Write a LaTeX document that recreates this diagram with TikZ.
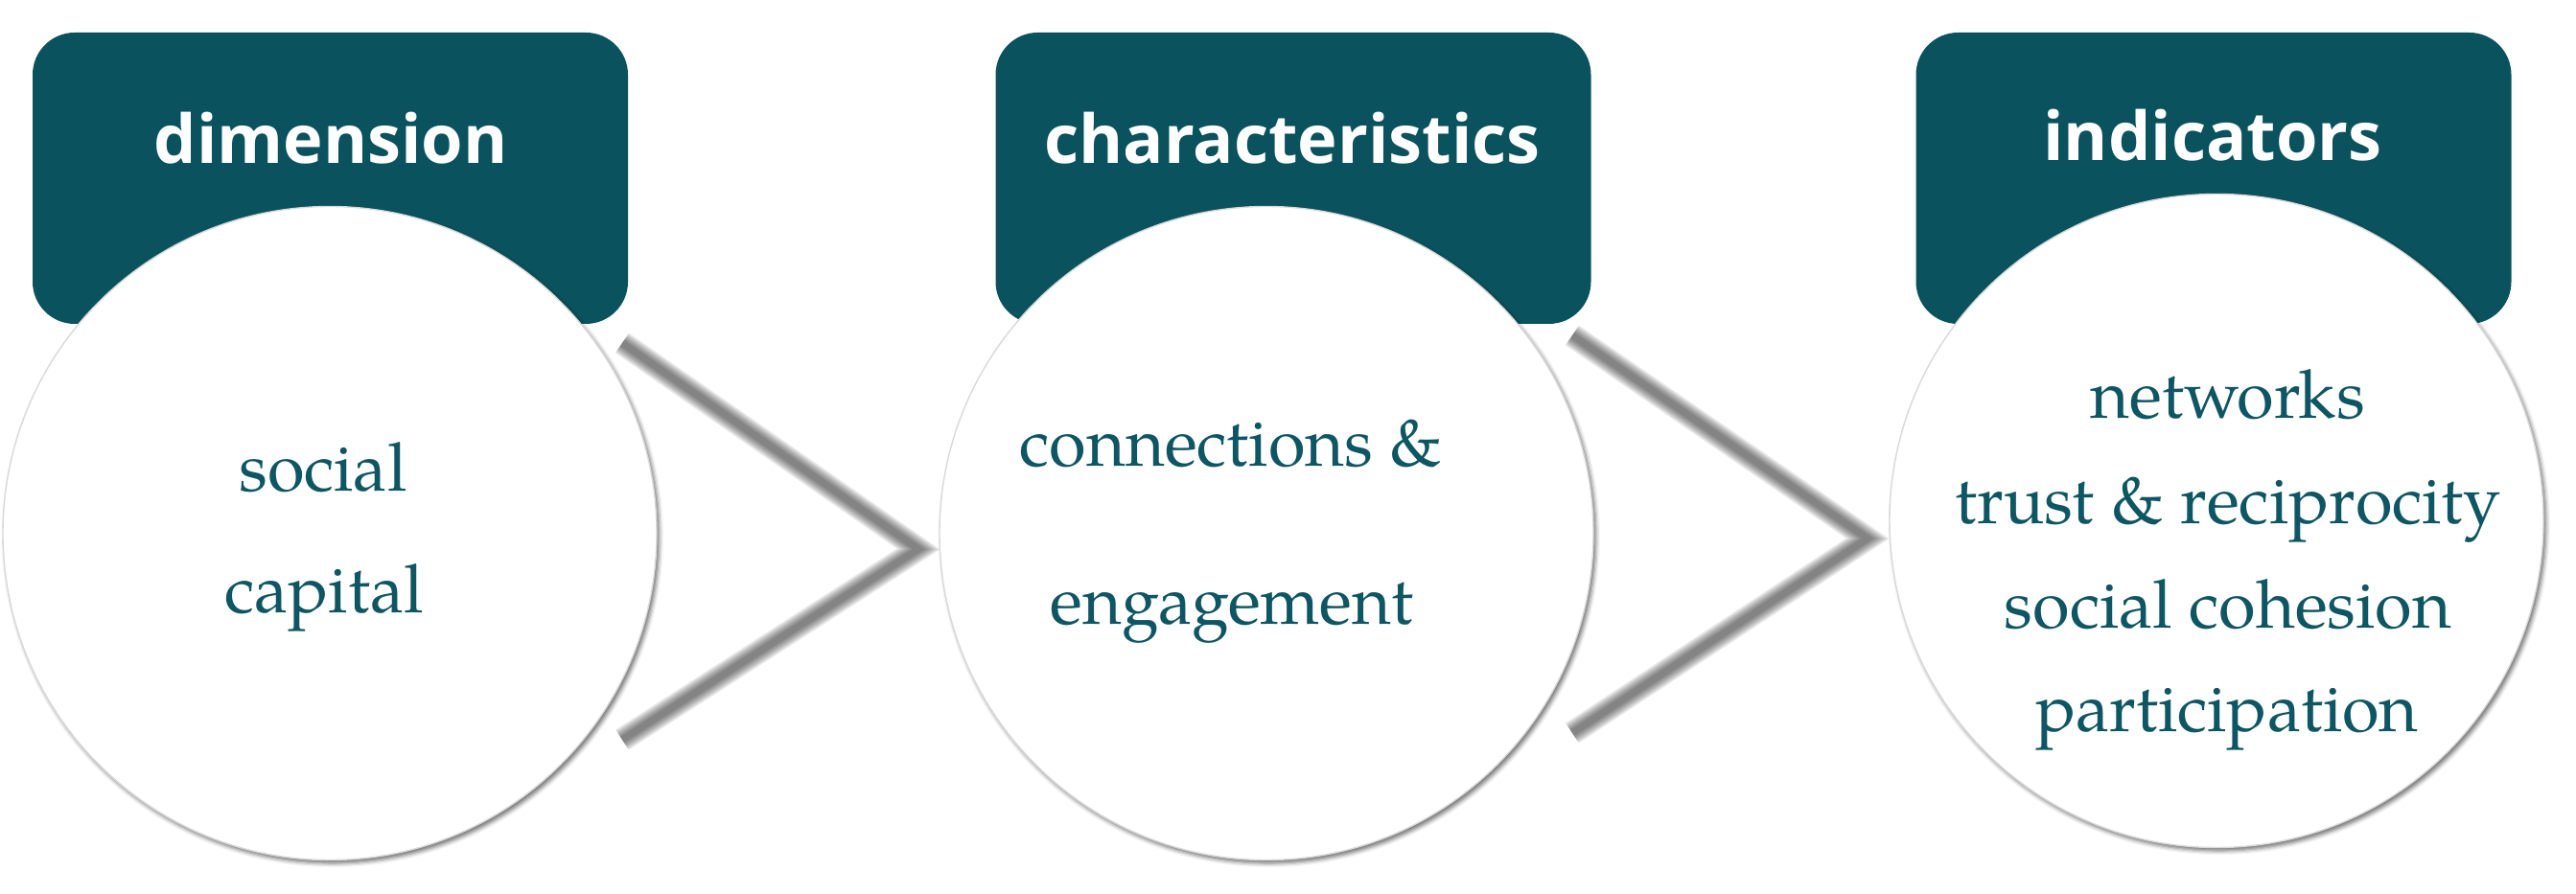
\documentclass[tikz,border=0pt]{standalone}
\usepackage{fontspec}
\setmainfont{TeX Gyre Pagella}
\newfontfamily\headfont{Open Sans}
\usetikzlibrary{positioning,shadows.blur}
\definecolor{headteal}{HTML}{0A525D}
\definecolor{textteal}{HTML}{0E5663}

\begin{document}
\begin{tikzpicture}[
  hd/.style={fill=headteal,rounded corners=12.5pt,minimum width=6.21cm,minimum height=3.04cm,inner sep=0pt},
  bub/.style={circle,fill=white,draw=gray!30,line width=0.4pt,minimum size=6.82cm,inner sep=0pt,
    blur shadow={shadow xshift=0.8pt,shadow yshift=-1pt,shadow blur radius=1.2pt,shadow opacity=55}},
  htxt/.style={font=\headfont\bfseries\fontsize{20}{24}\selectfont,text=white,anchor=base,inner sep=0pt},
  btxt/.style={font=\fontsize{20}{24}\selectfont,text=textteal,anchor=base,inner sep=0pt},
  chev/.style={black,draw opacity=0.09,line join=miter,line cap=butt},
]
\useasboundingbox (0,0) rectangle (26.87,-9.33);
% chevron corners
\coordinate (a1) at (6.49,-3.58); \coordinate (t1) at (9.58,-5.73); \coordinate (b1) at (6.49,-7.72);
\coordinate (a2) at (16.40,-3.50); \coordinate (t2) at (19.48,-5.62); \coordinate (b2) at (16.40,-7.65);
\foreach \w in {0.25,0.22,0.19,0.16,0.13,0.10,0.07}{
  \draw[chev,line width=\w cm] (a1) -- (t1) -- (b1);
  \draw[chev,line width=\w cm] (a2) -- (t2) -- (b2);
}
% headers
\node[hd] (h1) at (3.445,-1.86) {};
\node[hd] (h2) at (13.49,-1.86) {};
\node[hd] (h3) at (23.09,-1.86) {};
% circles
\node[bub] (c1) at (3.44,-5.565) {};
\node[bub] (c2) at (13.21,-5.565) {};
\node[bub] (c3) at (23.12,-5.435) {};
% header texts
\node[htxt] (h1t) at (3.45,-1.71) {dimension};
\node[htxt] (h2t) at (13.48,-1.71) {characteristics};
\node[htxt] (h3t) at (23.08,-1.68) {indicators};
% circle texts
\node[btxt] (soc) at (3.37,-5.12) {social};
\node[btxt] (cap) at (3.38,-6.40) {capital};
\node[btxt] (con) at (12.84,-4.87) {connections \&};
\node[btxt] (eng) at (12.85,-6.52) {engagement};
\node[btxt] (net) at (23.24,-4.37) {networks};
\node[btxt] (tru) at (23.24,-5.46) {trust \& reciprocity};
\node[btxt] (coh) at (23.24,-6.55) {social cohesion};
\node[btxt] (par) at (23.23,-7.63) {participation};
\end{tikzpicture}
\end{document}
